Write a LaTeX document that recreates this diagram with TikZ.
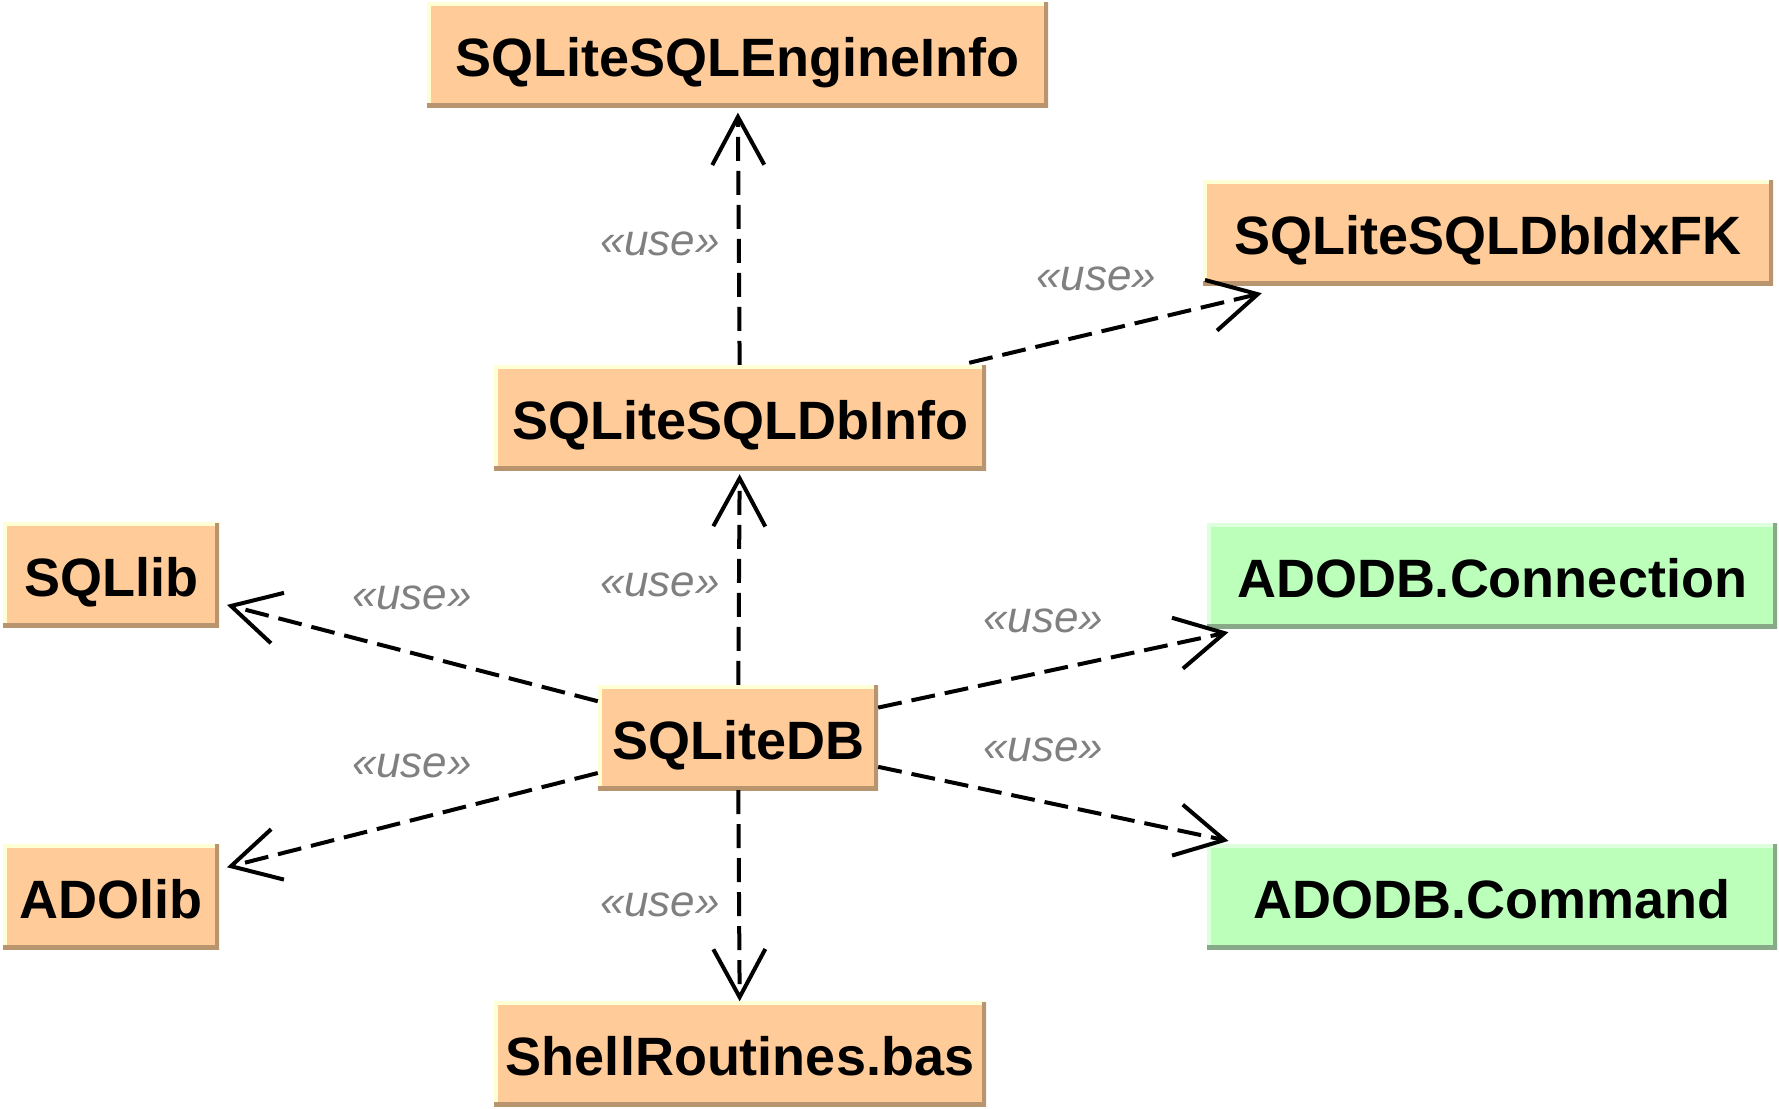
\documentclass[tikz,border=0pt]{standalone}
\usepackage{fontspec}
\setmainfont{Liberation Sans}
\usetikzlibrary{arrows.meta,calc}
\definecolor{peach}{HTML}{FFCC99}
\definecolor{peachlight}{HTML}{FFFFD5}
\definecolor{peachdark}{HTML}{B8956E}
\definecolor{mint}{HTML}{BBFFBB}
\definecolor{mintlight}{HTML}{DDFFDD}
\definecolor{mintdark}{HTML}{88AA88}
\definecolor{usegray}{HTML}{808080}
\begin{document}
\begin{tikzpicture}[x=1pt,y=-1pt,
  bevel/.style 2 args={path picture={
    \draw[line width=7pt,#1] (path picture bounding box.south west) -- (path picture bounding box.north west) -- (path picture bounding box.north east);
    \draw[line width=9pt,#2] (path picture bounding box.north east) -- (path picture bounding box.south east) -- (path picture bounding box.south west);}},
  box/.style={inner sep=0pt, minimum height=105pt, text height=43pt, text depth=0pt,
    font=\fontsize{54}{60}\selectfont\bfseries},
  orangebox/.style={box, fill=peach, bevel={peachlight}{peachdark}},
  greenbox/.style={box, fill=mint, bevel={mintlight}{mintdark}},
  uselabel/.style={inner sep=0pt, text height=22.8pt, text depth=0pt, text=usegray,
    font=\fontsize{44}{50}\selectfont\itshape},
  uses/.style={draw, line width=4pt, dash pattern=on 24pt off 10pt,
    -{Straight Barb[length=48pt,width=52pt]}}
]
\useasboundingbox (0,0) rectangle (1779,1108);

\node[orangebox, minimum width=621pt] (engine) at (737.5,55) {SQLiteSQLEngineInfo};
\node[orangebox, minimum width=570pt] (idxfk) at (1488,232.5) {SQLiteSQLDbIdxFK};
\node[orangebox, minimum width=492pt] (dbinfo) at (740,417.5) {SQLiteSQLDbInfo};
\node[orangebox, minimum width=216pt] (sqllib) at (111,575) {SQLlib};
\node[greenbox, minimum width=570pt] (conn) at (1492,575.5) {ADODB.Connection};
\node[orangebox, minimum width=280pt] (db) at (738,737.5) {SQLiteDB};
\node[orangebox, minimum width=216pt] (adolib) at (111,896.5) {ADOlib};
\node[greenbox, minimum width=570pt] (cmd) at (1492,896.5) {ADODB.Command};
\node[orangebox, minimum width=492pt] (shell) at (740,1054) {ShellRoutines.bas};

\draw[uses, shorten >=5pt] (dbinfo) -- (engine);
\draw[uses] ($(dbinfo.north east)+(-17,-2)$) -- ($(idxfk.south west)+(59,8)$);
\draw[uses, shorten >=8pt] (db) -- (sqllib);
\draw[uses, shorten >=8pt] (db) -- (adolib);
\draw[uses, shorten >=19pt] (db) -- (conn);
\draw[uses, shorten >=14pt] (db) -- (cmd);
\draw[uses] (db) -- (shell);
\draw[uses, shorten >=4pt] (db) -- (dbinfo);

\node[uselabel] (l1) at (660,244.5) {«use»};
\node[uselabel] (l2) at (1096,279.5) {«use»};
\node[uselabel] (l3) at (660,585.5) {«use»};
\node[uselabel] (l4) at (412,598.5) {«use»};
\node[uselabel] (l5) at (412,766.5) {«use»};
\node[uselabel] (l6) at (1043,621.5) {«use»};
\node[uselabel] (l7) at (1043,750.5) {«use»};
\node[uselabel] (l8) at (660,905.5) {«use»};
\end{tikzpicture}
\end{document}
